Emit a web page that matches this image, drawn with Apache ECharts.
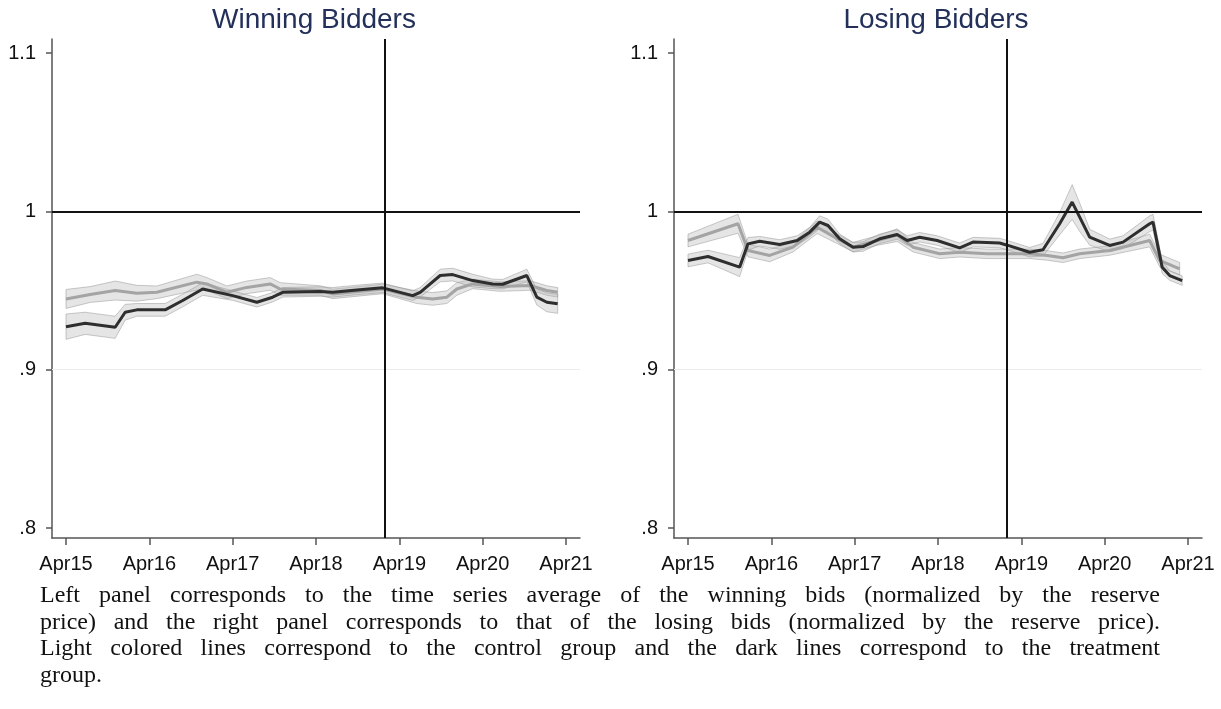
<!DOCTYPE html>
<html>
<head>
<meta charset="utf-8">
<script src="https://cdn.jsdelivr.net/npm/echarts@6/dist/echarts.min.js"></script>
<style>
  html, body { margin: 0; padding: 0; background: #fff; }
  #chart { position: absolute; left: 0; top: 0; width: 1221px; height: 709px; }
  #caption { position: absolute; left: 40px; top: 581px; width: 1120px;
    font-family: "Liberation Serif", serif; font-size: 24px; line-height: 26.7px; color: #111; }
  #caption .j { text-align: justify; text-align-last: justify; }
</style>
</head>
<body>
<div id="chart"></div>
<div id="caption">
  <div class="j">Left panel corresponds to the time series average of the winning bids (normalized by the reserve</div>
  <div class="j">price) and the right panel corresponds to that of the losing bids (normalized by the reserve price).</div>
  <div class="j">Light colored lines correspond to the control group and the dark lines correspond to the treatment</div>
  <div>group.</div>
</div>
<script>
var dayTicks = [0, 1, 2, 3, 4, 5, 6];
var dayLabels = ['Apr15', 'Apr16', 'Apr17', 'Apr18', 'Apr19', 'Apr20', 'Apr21'];
var yTicks = [0.8, 0.9, 1, 1.1];
var yLabels = ['.8', '.9', '1', '1.1'];
var panelTitles = ['Winning Bidders', 'Losing Bidders'];
var cutoffDay = 3.83;
var refLevel = 1;

// winning bidders, treatment (dark)
var winTreatDays = [0, 0.23, 0.59, 0.71, 0.85, 1.19, 1.40, 1.64, 2.00, 2.29, 2.48, 2.60, 3.05, 3.20, 3.49, 3.80, 4.16, 4.25, 4.49, 4.64, 4.88, 5.12, 5.24, 5.53, 5.65, 5.77, 5.90];
var winTreatMean = [0.9272, 0.9293, 0.9268, 0.9363, 0.9378, 0.9378, 0.9437, 0.951, 0.9468, 0.9426, 0.9458, 0.9489, 0.9494, 0.9489, 0.9504, 0.9517, 0.9468, 0.9489, 0.9595, 0.9601, 0.9563, 0.9542, 0.954, 0.9595, 0.9458, 0.9426, 0.9416];
var winTreatHalf = [0.008, 0.007, 0.007, 0.005, 0.004, 0.004, 0.004, 0.004, 0.003, 0.003, 0.003, 0.003, 0.003, 0.003, 0.003, 0.003, 0.003, 0.003, 0.004, 0.004, 0.004, 0.003, 0.003, 0.004, 0.005, 0.006, 0.006];
// winning bidders, control (light)
var winCtrlDays = [0, 0.29, 0.59, 0.85, 1.09, 1.57, 1.69, 1.93, 2.17, 2.45, 2.57, 3.05, 3.20, 3.80, 4.21, 4.40, 4.57, 4.69, 4.88, 5.21, 5.57, 5.77, 5.90];
var winCtrlMean = [0.9447, 0.9475, 0.95, 0.9483, 0.9489, 0.9553, 0.9542, 0.9489, 0.952, 0.9542, 0.951, 0.95, 0.9479, 0.951, 0.9458, 0.9447, 0.9458, 0.951, 0.9542, 0.9525, 0.9532, 0.95, 0.9489];
var winCtrlHalf = [0.006, 0.005, 0.006, 0.005, 0.004, 0.005, 0.004, 0.004, 0.004, 0.004, 0.004, 0.003, 0.003, 0.003, 0.004, 0.004, 0.004, 0.004, 0.003, 0.003, 0.003, 0.003, 0.003];

// losing bidders, treatment (dark)
var loseTreatDays = [0, 0.24, 0.62, 0.72, 0.86, 1.10, 1.31, 1.46, 1.58, 1.68, 1.82, 1.98, 2.10, 2.30, 2.51, 2.63, 2.78, 2.99, 3.26, 3.42, 3.74, 3.84, 4.10, 4.26, 4.46, 4.61, 4.70, 4.82, 5.06, 5.22, 5.54, 5.58, 5.69, 5.78, 5.93];
var loseTreatMean = [0.969, 0.9715, 0.9648, 0.9795, 0.9812, 0.9791, 0.9816, 0.9869, 0.9932, 0.9911, 0.9827, 0.9774, 0.9778, 0.9827, 0.9854, 0.9816, 0.9837, 0.9816, 0.977, 0.9806, 0.98, 0.9785, 0.9742, 0.9758, 0.9922, 1.0059, 0.9964, 0.9837, 0.9785, 0.9806, 0.9922, 0.9932, 0.9648, 0.9595, 0.9563];
var loseTreatHalf = [0.004, 0.004, 0.006, 0.004, 0.003, 0.003, 0.003, 0.003, 0.004, 0.004, 0.003, 0.003, 0.003, 0.003, 0.003, 0.003, 0.003, 0.003, 0.003, 0.003, 0.003, 0.003, 0.003, 0.004, 0.007, 0.011, 0.009, 0.005, 0.004, 0.004, 0.005, 0.005, 0.004, 0.003, 0.003];
// losing bidders, control (light)
var loseCtrlDays = [0, 0.60, 0.72, 0.98, 1.26, 1.55, 1.79, 1.98, 2.27, 2.51, 2.70, 3.02, 3.26, 3.59, 4.10, 4.31, 4.50, 4.70, 5.06, 5.54, 5.66, 5.90];
var loseCtrlMean = [0.9816, 0.9922, 0.9753, 0.9722, 0.9774, 0.99, 0.9827, 0.9774, 0.9816, 0.985, 0.9774, 0.9732, 0.9742, 0.9732, 0.9732, 0.9722, 0.9707, 0.9732, 0.9753, 0.9816, 0.969, 0.9637];
var loseCtrlHalf = [0.004, 0.006, 0.004, 0.004, 0.003, 0.004, 0.003, 0.003, 0.003, 0.004, 0.003, 0.003, 0.003, 0.003, 0.003, 0.003, 0.003, 0.003, 0.003, 0.004, 0.004, 0.004];

var dark = '#2e2e2e';
var light = '#a4a4a4';
var bandFill = 'rgba(180,180,180,0.34)';
var bandEdge = 'rgba(150,150,150,0.5)';
var axisColor = '#555';

var chart = echarts.init(document.getElementById('chart'), null, { renderer: 'canvas' });

function pairs(xs, ys) { return xs.map(function(x, i){ return [x, ys[i]]; }); }

// confidence band: one polygon through the axis scales
function bandSeries(idx, days, mean, half) {
  var rows = days.map(function(d, i){ return [d, mean[i] - half[i], mean[i] + half[i]]; });
  return {
    type: 'custom', xAxisIndex: idx, yAxisIndex: idx, data: rows, silent: true, z: 1,
    encode: { x: 0, y: [1, 2] },
    renderItem: function(params, api) {
      if (params.dataIndex !== 0) return null;
      var up = rows.map(function(r){ return api.coord([r[0], r[2]]); });
      var lo = rows.map(function(r){ return api.coord([r[0], r[1]]); }).reverse();
      return { type: 'polygon', shape: { points: up.concat(lo) },
        style: { fill: bandFill, stroke: bandEdge, lineWidth: 1 } };
    }
  };
}

function lineSeries(idx, days, mean, color, z, withRefs) {
  var s = { type: 'line', xAxisIndex: idx, yAxisIndex: idx, data: pairs(days, mean), symbol: 'none',
    z: z, lineStyle: { width: 3, color: color } };
  if (withRefs) {
    s.markLine = { silent: true, symbol: 'none', label: { show: false }, animation: false,
      data: [
        { yAxis: 0.9, lineStyle: { color: '#ececec', width: 1, type: 'solid' } },
        { yAxis: refLevel, lineStyle: { color: '#111', width: 2, type: 'solid' } },
        { xAxis: cutoffDay, lineStyle: { color: '#111', width: 2, type: 'solid' } }
      ] };
  }
  return s;
}

function xAxisFor(idx) {
  return { type: 'value', gridIndex: idx, min: -0.168, max: 6.168,
    axisLine: { show: true, onZero: false, lineStyle: { color: axisColor, width: 1.5 } },
    axisTick: { show: true, customValues: dayTicks, length: 7, lineStyle: { color: axisColor, width: 1.5 } },
    axisLabel: { customValues: dayTicks, margin: 16, color: '#111', fontSize: 20, fontFamily: 'Liberation Sans',
      formatter: function(v){ return dayLabels[dayTicks.indexOf(Math.round(v))]; } },
    splitLine: { show: false } };
}

function yAxisFor(idx) {
  return { type: 'value', gridIndex: idx, min: 0.7937, max: 1.1089,
    axisLine: { show: true, onZero: false, lineStyle: { color: axisColor, width: 1.5 } },
    axisTick: { show: true, customValues: yTicks, length: 6, lineStyle: { color: axisColor, width: 1.5 } },
    axisLabel: { customValues: yTicks, margin: 16, color: '#111', fontSize: 20, fontFamily: 'Liberation Sans',
      formatter: function(v){
        for (var i = 0; i < yTicks.length; i++) { if (Math.abs(yTicks[i] - v) < 1e-6) return yLabels[i]; }
        return '';
      } },
    splitLine: { show: false } };
}

var series = [
  bandSeries(0, winCtrlDays, winCtrlMean, winCtrlHalf),
  bandSeries(0, winTreatDays, winTreatMean, winTreatHalf),
  lineSeries(0, winCtrlDays, winCtrlMean, light, 3, false),
  lineSeries(0, winTreatDays, winTreatMean, dark, 4, true),
  bandSeries(1, loseCtrlDays, loseCtrlMean, loseCtrlHalf),
  bandSeries(1, loseTreatDays, loseTreatMean, loseTreatHalf),
  lineSeries(1, loseCtrlDays, loseCtrlMean, light, 3, false),
  lineSeries(1, loseTreatDays, loseTreatMean, dark, 4, true)
];

chart.setOption({
  animation: false,
  grid: [
    { left: 52, top: 39, width: 528, height: 499 },
    { left: 674, top: 39, width: 528, height: 499 }
  ],
  xAxis: [xAxisFor(0), xAxisFor(1)],
  yAxis: [yAxisFor(0), yAxisFor(1)],
  graphic: [
    { type: 'text', x: 314, y: 20, style: { text: panelTitles[0], fill: '#22305a', fontSize: 28,
      fontFamily: 'Liberation Sans', align: 'center', verticalAlign: 'middle' } },
    { type: 'text', x: 936, y: 20, style: { text: panelTitles[1], fill: '#22305a', fontSize: 28,
      fontFamily: 'Liberation Sans', align: 'center', verticalAlign: 'middle' } }
  ],
  series: series
});
window.addEventListener('resize', function(){ chart.resize(); });
</script>
</body>
</html>
